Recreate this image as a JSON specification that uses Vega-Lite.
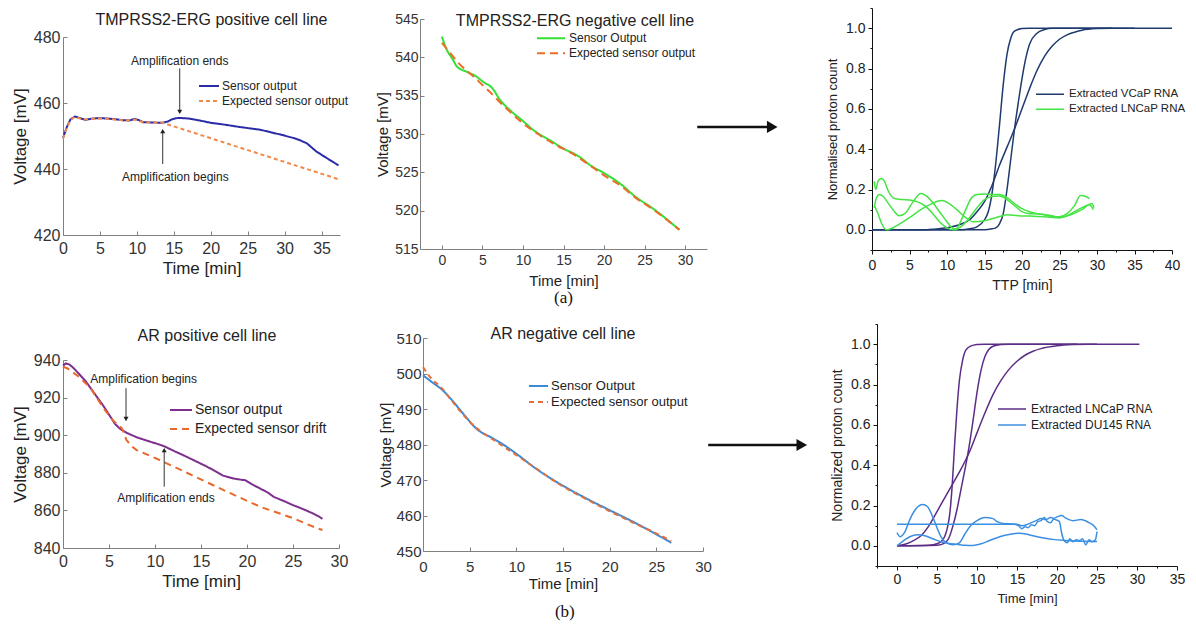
{
"$schema": "https://vega.github.io/schema/vega-lite/v6.json",
"width": 1196, "height": 624,
"autosize": {"type": "none"},
"padding": 0,
"config": {
  "font": "Liberation Sans",
  "view": {"stroke": null},
  "axis": {"grid": false, "labelFont": "Liberation Sans", "titleFont": "Liberation Sans", "titleFontWeight": "normal", "labelFlush": false, "labelOverlap": false},
  "legend": {"labelFont": "Liberation Sans", "labelColor": "#222", "labelLimit": 300}
},
"resolve": {
  "scale": {"x": "independent", "y": "independent", "color": "independent", "strokeDash": "independent", "shape": "independent"},
  "axis": {"x": "independent", "y": "independent"},
  "legend": {"color": "independent", "strokeDash": "independent", "shape": "independent"}
},
"datasets": {
  "p1": [
    {"s":"Sensor output","t":0,"v":449.4},{"s":"Sensor output","t":0.5,"v":452.6},{"s":"Sensor output","t":1,"v":455},{"s":"Sensor output","t":1.6,"v":455.9},{"s":"Sensor output","t":2.2,"v":455.5},{"s":"Sensor output","t":3,"v":454.9},{"s":"Sensor output","t":4,"v":455.3},{"s":"Sensor output","t":5,"v":455.4},{"s":"Sensor output","t":6,"v":455.3},{"s":"Sensor output","t":7,"v":455.1},{"s":"Sensor output","t":8,"v":454.8},{"s":"Sensor output","t":9,"v":454.7},{"s":"Sensor output","t":9.7,"v":455.2},{"s":"Sensor output","t":10.3,"v":454.8},{"s":"Sensor output","t":10.8,"v":454.2},{"s":"Sensor output","t":12,"v":454.1},{"s":"Sensor output","t":13.5,"v":454},{"s":"Sensor output","t":14.2,"v":454.4},{"s":"Sensor output","t":14.8,"v":455.1},{"s":"Sensor output","t":15.6,"v":455.5},{"s":"Sensor output","t":17,"v":455.3},{"s":"Sensor output","t":18.5,"v":454.7},{"s":"Sensor output","t":20,"v":454},{"s":"Sensor output","t":22,"v":453.4},{"s":"Sensor output","t":24,"v":452.7},{"s":"Sensor output","t":26.7,"v":451.9},{"s":"Sensor output","t":28,"v":451.2},{"s":"Sensor output","t":29.5,"v":450.4},{"s":"Sensor output","t":31.2,"v":449.4},{"s":"Sensor output","t":32,"v":448.8},{"s":"Sensor output","t":33,"v":447.8},{"s":"Sensor output","t":34.3,"v":445.3},{"s":"Sensor output","t":35.5,"v":443.6},{"s":"Sensor output","t":36.5,"v":442.2},{"s":"Sensor output","t":37.3,"v":441.1},
    {"s":"Expected sensor output","t":0,"v":449.2},{"s":"Expected sensor output","t":0.5,"v":452.4},{"s":"Expected sensor output","t":1,"v":454.8},{"s":"Expected sensor output","t":1.6,"v":455.8},{"s":"Expected sensor output","t":2.2,"v":455.4},{"s":"Expected sensor output","t":3,"v":455},{"s":"Expected sensor output","t":4,"v":455.2},{"s":"Expected sensor output","t":5,"v":455.3},{"s":"Expected sensor output","t":6,"v":455.2},{"s":"Expected sensor output","t":7,"v":455},{"s":"Expected sensor output","t":8,"v":454.8},{"s":"Expected sensor output","t":9,"v":454.7},{"s":"Expected sensor output","t":9.7,"v":455},{"s":"Expected sensor output","t":10.3,"v":454.6},{"s":"Expected sensor output","t":10.8,"v":454.2},{"s":"Expected sensor output","t":12,"v":454.1},{"s":"Expected sensor output","t":13.5,"v":454},{"s":"Expected sensor output","t":37.3,"v":436.9}
  ],
  "p1title": [{"t":20.1,"v":485.15,"label":"TMPRSS2-ERG positive cell line"}],
  "p1ann": [{"t":15.8,"v":472.7,"label":"Amplification ends"},{"t":15.2,"v":437.7,"label":"Amplification begins"}],
  "p1arr": [{"t":15.8,"v1":470.5,"v2":457.3,"d":"down"},{"t":13.5,"v1":441.5,"v2":451.5,"d":"up"}],
  "p2": [
    {"s":"Sensor Output","t":0,"v":542.7},{"s":"Sensor Output","t":0.6,"v":541},{"s":"Sensor Output","t":1.3,"v":539.8},{"s":"Sensor Output","t":1.85,"v":538.8},{"s":"Sensor Output","t":3.1,"v":538.1},{"s":"Sensor Output","t":4.1,"v":537.6},{"s":"Sensor Output","t":5.1,"v":536.8},{"s":"Sensor Output","t":6.2,"v":536},{"s":"Sensor Output","t":7.2,"v":534.4},{"s":"Sensor Output","t":8.4,"v":533.1},{"s":"Sensor Output","t":10,"v":531.7},{"s":"Sensor Output","t":11.3,"v":530.5},{"s":"Sensor Output","t":13.3,"v":529.2},{"s":"Sensor Output","t":15,"v":528.1},{"s":"Sensor Output","t":17,"v":527},{"s":"Sensor Output","t":18.2,"v":526},{"s":"Sensor Output","t":20,"v":524.9},{"s":"Sensor Output","t":21.9,"v":523.6},{"s":"Sensor Output","t":23.9,"v":521.8},{"s":"Sensor Output","t":26,"v":520.3},{"s":"Sensor Output","t":29.3,"v":517.5},
    {"s":"Expected sensor output","t":0,"v":541.9},{"s":"Expected sensor output","t":1,"v":540.6},{"s":"Expected sensor output","t":2,"v":539.3},{"s":"Expected sensor output","t":3,"v":538.3},{"s":"Expected sensor output","t":4,"v":537.4},{"s":"Expected sensor output","t":5,"v":536.4},{"s":"Expected sensor output","t":6,"v":535.4},{"s":"Expected sensor output","t":7,"v":534.3},{"s":"Expected sensor output","t":8,"v":533.3},{"s":"Expected sensor output","t":10,"v":531.4},{"s":"Expected sensor output","t":12,"v":529.9},{"s":"Expected sensor output","t":14,"v":528.6},{"s":"Expected sensor output","t":16,"v":527.5},{"s":"Expected sensor output","t":18,"v":526.1},{"s":"Expected sensor output","t":20,"v":524.6},{"s":"Expected sensor output","t":22,"v":523.3},{"s":"Expected sensor output","t":24,"v":521.6},{"s":"Expected sensor output","t":26,"v":520.2},{"s":"Expected sensor output","t":28,"v":518.6},{"s":"Expected sensor output","t":29.3,"v":517.5}
  ],
  "p2title": [{"t":16.42,"v":544.78,"label":"TMPRSS2-ERG negative cell line"}],
  "capA": [{"t":15,"v":508.6,"label":"(a)"}],
  "p3": [
    {"g":"VCaP","k":"V1","t":0,"v":0},{"g":"VCaP","k":"V1","t":12,"v":0},{"g":"VCaP","k":"V1","t":13,"v":0.005},{"g":"VCaP","k":"V1","t":14,"v":0.015},{"g":"VCaP","k":"V1","t":15,"v":0.05},{"g":"VCaP","k":"V1","t":15.5,"v":0.09},{"g":"VCaP","k":"V1","t":16,"v":0.18},{"g":"VCaP","k":"V1","t":16.5,"v":0.33},{"g":"VCaP","k":"V1","t":17,"v":0.52},{"g":"VCaP","k":"V1","t":17.5,"v":0.72},{"g":"VCaP","k":"V1","t":18,"v":0.87},{"g":"VCaP","k":"V1","t":18.5,"v":0.95},{"g":"VCaP","k":"V1","t":19,"v":0.985},{"g":"VCaP","k":"V1","t":20,"v":0.998},{"g":"VCaP","k":"V1","t":21,"v":1},{"g":"VCaP","k":"V1","t":40,"v":1},
    {"g":"VCaP","k":"V2","t":0,"v":0},{"g":"VCaP","k":"V2","t":15,"v":0},{"g":"VCaP","k":"V2","t":16,"v":0.005},{"g":"VCaP","k":"V2","t":16.5,"v":0.01},{"g":"VCaP","k":"V2","t":17,"v":0.03},{"g":"VCaP","k":"V2","t":17.5,"v":0.08},{"g":"VCaP","k":"V2","t":18,"v":0.2},{"g":"VCaP","k":"V2","t":18.5,"v":0.35},{"g":"VCaP","k":"V2","t":19,"v":0.5},{"g":"VCaP","k":"V2","t":19.5,"v":0.63},{"g":"VCaP","k":"V2","t":20,"v":0.75},{"g":"VCaP","k":"V2","t":20.5,"v":0.85},{"g":"VCaP","k":"V2","t":21,"v":0.92},{"g":"VCaP","k":"V2","t":22,"v":0.975},{"g":"VCaP","k":"V2","t":23,"v":0.993},{"g":"VCaP","k":"V2","t":24,"v":1},{"g":"VCaP","k":"V2","t":32,"v":1},
    {"g":"VCaP","k":"V3","t":0,"v":0},{"g":"VCaP","k":"V3","t":7,"v":0},{"g":"VCaP","k":"V3","t":8,"v":0.003},{"g":"VCaP","k":"V3","t":10,"v":0.01},{"g":"VCaP","k":"V3","t":12,"v":0.03},{"g":"VCaP","k":"V3","t":13,"v":0.05},{"g":"VCaP","k":"V3","t":14,"v":0.09},{"g":"VCaP","k":"V3","t":15,"v":0.14},{"g":"VCaP","k":"V3","t":16,"v":0.22},{"g":"VCaP","k":"V3","t":17,"v":0.32},{"g":"VCaP","k":"V3","t":18,"v":0.41},{"g":"VCaP","k":"V3","t":19,"v":0.5},{"g":"VCaP","k":"V3","t":20,"v":0.6},{"g":"VCaP","k":"V3","t":21,"v":0.7},{"g":"VCaP","k":"V3","t":22,"v":0.79},{"g":"VCaP","k":"V3","t":23,"v":0.86},{"g":"VCaP","k":"V3","t":24,"v":0.91},{"g":"VCaP","k":"V3","t":25,"v":0.945},{"g":"VCaP","k":"V3","t":26,"v":0.967},{"g":"VCaP","k":"V3","t":27,"v":0.98},{"g":"VCaP","k":"V3","t":28,"v":0.99},{"g":"VCaP","k":"V3","t":30,"v":0.998},{"g":"VCaP","k":"V3","t":32,"v":1},{"g":"VCaP","k":"V3","t":35,"v":1},
    {"g":"LNCaP","k":"L1","t":0.3,"v":0.11},{"g":"LNCaP","k":"L1","t":0.6,"v":0.16},{"g":"LNCaP","k":"L1","t":1,"v":0.175},{"g":"LNCaP","k":"L1","t":1.5,"v":0.165},{"g":"LNCaP","k":"L1","t":2.2,"v":0.13},{"g":"LNCaP","k":"L1","t":3,"v":0.09},{"g":"LNCaP","k":"L1","t":3.6,"v":0.07},{"g":"LNCaP","k":"L1","t":4.5,"v":0.085},{"g":"LNCaP","k":"L1","t":5.5,"v":0.14},{"g":"LNCaP","k":"L1","t":6.5,"v":0.18},{"g":"LNCaP","k":"L1","t":7.2,"v":0.17},{"g":"LNCaP","k":"L1","t":8,"v":0.14},{"g":"LNCaP","k":"L1","t":9,"v":0.09},{"g":"LNCaP","k":"L1","t":10,"v":0.04},{"g":"LNCaP","k":"L1","t":10.7,"v":0.01},{"g":"LNCaP","k":"L1","t":11.2,"v":0.005},{"g":"LNCaP","k":"L1","t":11.8,"v":0.04},{"g":"LNCaP","k":"L1","t":12.5,"v":0.1},{"g":"LNCaP","k":"L1","t":13.3,"v":0.16},{"g":"LNCaP","k":"L1","t":14,"v":0.175},{"g":"LNCaP","k":"L1","t":15,"v":0.178},{"g":"LNCaP","k":"L1","t":16,"v":0.175},{"g":"LNCaP","k":"L1","t":17,"v":0.175},{"g":"LNCaP","k":"L1","t":18,"v":0.16},{"g":"LNCaP","k":"L1","t":19,"v":0.13},{"g":"LNCaP","k":"L1","t":20,"v":0.105},{"g":"LNCaP","k":"L1","t":21,"v":0.09},{"g":"LNCaP","k":"L1","t":22,"v":0.08},{"g":"LNCaP","k":"L1","t":23,"v":0.075},{"g":"LNCaP","k":"L1","t":24,"v":0.065},{"g":"LNCaP","k":"L1","t":25,"v":0.065},{"g":"LNCaP","k":"L1","t":26,"v":0.08},{"g":"LNCaP","k":"L1","t":27,"v":0.12},{"g":"LNCaP","k":"L1","t":27.8,"v":0.17},{"g":"LNCaP","k":"L1","t":28.5,"v":0.165},{"g":"LNCaP","k":"L1","t":29,"v":0.155},
    {"g":"LNCaP","k":"L2","t":0.3,"v":0.24},{"g":"LNCaP","k":"L2","t":0.5,"v":0.2},{"g":"LNCaP","k":"L2","t":0.8,"v":0.24},{"g":"LNCaP","k":"L2","t":1.2,"v":0.255},{"g":"LNCaP","k":"L2","t":1.6,"v":0.245},{"g":"LNCaP","k":"L2","t":2.2,"v":0.19},{"g":"LNCaP","k":"L2","t":3,"v":0.155},{"g":"LNCaP","k":"L2","t":4,"v":0.15},{"g":"LNCaP","k":"L2","t":5,"v":0.148},{"g":"LNCaP","k":"L2","t":6,"v":0.14},{"g":"LNCaP","k":"L2","t":7,"v":0.12},{"g":"LNCaP","k":"L2","t":8,"v":0.085},{"g":"LNCaP","k":"L2","t":9,"v":0.04},{"g":"LNCaP","k":"L2","t":10,"v":0.01},{"g":"LNCaP","k":"L2","t":11,"v":0},{"g":"LNCaP","k":"L2","t":12,"v":0.02},{"g":"LNCaP","k":"L2","t":13,"v":0.06},{"g":"LNCaP","k":"L2","t":14,"v":0.11},{"g":"LNCaP","k":"L2","t":15,"v":0.15},{"g":"LNCaP","k":"L2","t":16,"v":0.165},{"g":"LNCaP","k":"L2","t":17,"v":0.168},{"g":"LNCaP","k":"L2","t":18,"v":0.15},{"g":"LNCaP","k":"L2","t":19,"v":0.12},{"g":"LNCaP","k":"L2","t":20,"v":0.09},{"g":"LNCaP","k":"L2","t":21,"v":0.08},{"g":"LNCaP","k":"L2","t":22,"v":0.08},{"g":"LNCaP","k":"L2","t":23,"v":0.075},{"g":"LNCaP","k":"L2","t":24,"v":0.07},{"g":"LNCaP","k":"L2","t":25,"v":0.06},{"g":"LNCaP","k":"L2","t":26,"v":0.07},{"g":"LNCaP","k":"L2","t":27,"v":0.09},{"g":"LNCaP","k":"L2","t":28,"v":0.11},{"g":"LNCaP","k":"L2","t":29,"v":0.125},{"g":"LNCaP","k":"L2","t":29.5,"v":0.1},
    {"g":"LNCaP","k":"L3","t":0.3,"v":0.12},{"g":"LNCaP","k":"L3","t":0.8,"v":0.08},{"g":"LNCaP","k":"L3","t":1.3,"v":0.03},{"g":"LNCaP","k":"L3","t":1.9,"v":0},{"g":"LNCaP","k":"L3","t":2.5,"v":0.005},{"g":"LNCaP","k":"L3","t":3.5,"v":0.025},{"g":"LNCaP","k":"L3","t":5,"v":0.06},{"g":"LNCaP","k":"L3","t":6.5,"v":0.1},{"g":"LNCaP","k":"L3","t":8,"v":0.13},{"g":"LNCaP","k":"L3","t":9.3,"v":0.145},{"g":"LNCaP","k":"L3","t":10.3,"v":0.13},{"g":"LNCaP","k":"L3","t":11.3,"v":0.1},{"g":"LNCaP","k":"L3","t":12.5,"v":0.06},{"g":"LNCaP","k":"L3","t":13.5,"v":0.04},{"g":"LNCaP","k":"L3","t":15,"v":0.045},{"g":"LNCaP","k":"L3","t":16.5,"v":0.06},{"g":"LNCaP","k":"L3","t":18,"v":0.075},{"g":"LNCaP","k":"L3","t":19.5,"v":0.07},{"g":"LNCaP","k":"L3","t":21,"v":0.068},{"g":"LNCaP","k":"L3","t":23,"v":0.065},{"g":"LNCaP","k":"L3","t":25,"v":0.06},{"g":"LNCaP","k":"L3","t":26.5,"v":0.075},{"g":"LNCaP","k":"L3","t":28,"v":0.1},{"g":"LNCaP","k":"L3","t":29.3,"v":0.13},{"g":"LNCaP","k":"L3","t":29.6,"v":0.11}
  ],
  "arrA": [{"x1":-23.3,"x2":-13.6,"xh":-13.3,"y":0.51}],
  "p4": [
    {"s":"Sensor output","t":0,"v":937},{"s":"Sensor output","t":0.3,"v":938.2},{"s":"Sensor output","t":0.7,"v":937.6},{"s":"Sensor output","t":1.2,"v":935.5},{"s":"Sensor output","t":1.85,"v":932},{"s":"Sensor output","t":2.5,"v":928.5},{"s":"Sensor output","t":3.3,"v":923},{"s":"Sensor output","t":4.4,"v":915.5},{"s":"Sensor output","t":5,"v":911},{"s":"Sensor output","t":5.65,"v":906},{"s":"Sensor output","t":6.3,"v":903},{"s":"Sensor output","t":6.9,"v":901.3},{"s":"Sensor output","t":8,"v":898.9},{"s":"Sensor output","t":9.5,"v":896.5},{"s":"Sensor output","t":10.5,"v":895},{"s":"Sensor output","t":11.1,"v":893.9},{"s":"Sensor output","t":12.2,"v":891.3},{"s":"Sensor output","t":13.4,"v":888.6},{"s":"Sensor output","t":15.3,"v":884.1},{"s":"Sensor output","t":16.3,"v":881.6},{"s":"Sensor output","t":17.4,"v":878.5},{"s":"Sensor output","t":18.5,"v":877},{"s":"Sensor output","t":19.5,"v":876.2},{"s":"Sensor output","t":19.8,"v":876.1},{"s":"Sensor output","t":20.5,"v":874},{"s":"Sensor output","t":21.4,"v":871.7},{"s":"Sensor output","t":22.3,"v":869.4},{"s":"Sensor output","t":22.9,"v":867.2},{"s":"Sensor output","t":24,"v":865},{"s":"Sensor output","t":25,"v":862.8},{"s":"Sensor output","t":26.2,"v":860.5},{"s":"Sensor output","t":27.2,"v":858.3},{"s":"Sensor output","t":27.8,"v":856.8},{"s":"Sensor output","t":28.2,"v":855.5},
    {"s":"Expected sensor drift","t":0,"v":936.5},{"s":"Expected sensor drift","t":0.5,"v":935.5},{"s":"Expected sensor drift","t":1.85,"v":930.6},{"s":"Expected sensor drift","t":3,"v":925},{"s":"Expected sensor drift","t":4.4,"v":914.4},{"s":"Expected sensor drift","t":5.5,"v":907.5},{"s":"Expected sensor drift","t":6.4,"v":903.7},{"s":"Expected sensor drift","t":6.9,"v":897.4},{"s":"Expected sensor drift","t":7.5,"v":894},{"s":"Expected sensor drift","t":8,"v":892.1},{"s":"Expected sensor drift","t":10.5,"v":886.8},{"s":"Expected sensor drift","t":14,"v":878.8},{"s":"Expected sensor drift","t":17.8,"v":870},{"s":"Expected sensor drift","t":21.4,"v":862},{"s":"Expected sensor drift","t":25,"v":855.9},{"s":"Expected sensor drift","t":27.6,"v":850.5},{"s":"Expected sensor drift","t":28.2,"v":849.6}
  ],
  "p4title": [{"t":15.65,"v":952.9,"label":"AR positive cell line"}],
  "p4ann": [{"t":8.77,"v":929.9,"label":"Amplification begins"},{"t":11.2,"v":866.8,"label":"Amplification ends"}],
  "p4arr": [{"t":6.85,"v1":925,"v2":908.6,"d":"down"},{"t":11,"v1":872.6,"v2":892.1,"d":"up"}],
  "p5": [
    {"s":"Sensor Output","t":0,"v":499.5},{"s":"Sensor Output","t":1,"v":497.5},{"s":"Sensor Output","t":2.1,"v":495.3},{"s":"Sensor Output","t":3,"v":492.8},{"s":"Sensor Output","t":4.3,"v":488.7},{"s":"Sensor Output","t":5.7,"v":484.5},{"s":"Sensor Output","t":7.5,"v":481.7},{"s":"Sensor Output","t":8.7,"v":479.8},{"s":"Sensor Output","t":10,"v":477.4},{"s":"Sensor Output","t":12.1,"v":473.2},{"s":"Sensor Output","t":14.6,"v":469},{"s":"Sensor Output","t":17.5,"v":464.8},{"s":"Sensor Output","t":20,"v":461.5},{"s":"Sensor Output","t":22.9,"v":457.7},{"s":"Sensor Output","t":24.8,"v":455},{"s":"Sensor Output","t":26.6,"v":452.3},
    {"s":"Expected sensor output","t":0,"v":501.8},{"s":"Expected sensor output","t":0.7,"v":499.2},{"s":"Expected sensor output","t":2.1,"v":495.6},{"s":"Expected sensor output","t":3,"v":492.6},{"s":"Expected sensor output","t":4.3,"v":488.4},{"s":"Expected sensor output","t":5.7,"v":484.7},{"s":"Expected sensor output","t":7.5,"v":481.4},{"s":"Expected sensor output","t":10,"v":477},{"s":"Expected sensor output","t":12.1,"v":473.3},{"s":"Expected sensor output","t":14.6,"v":468.8},{"s":"Expected sensor output","t":17.5,"v":464.6},{"s":"Expected sensor output","t":20,"v":461.2},{"s":"Expected sensor output","t":22.9,"v":457.5},{"s":"Expected sensor output","t":24.8,"v":455.2},{"s":"Expected sensor output","t":26.6,"v":452.8}
  ],
  "p5title": [{"t":15,"v":511.1,"label":"AR negative cell line"}],
  "capB": [{"t":15.2,"v":432.8,"label":"(b)"}],
  "p6": [
    {"g":"LNCaP","k":"P1","t":0,"v":0},{"g":"LNCaP","k":"P1","t":4,"v":0.003},{"g":"LNCaP","k":"P1","t":5,"v":0.01},{"g":"LNCaP","k":"P1","t":5.5,"v":0.02},{"g":"LNCaP","k":"P1","t":6,"v":0.05},{"g":"LNCaP","k":"P1","t":6.3,"v":0.09},{"g":"LNCaP","k":"P1","t":6.6,"v":0.16},{"g":"LNCaP","k":"P1","t":6.9,"v":0.3},{"g":"LNCaP","k":"P1","t":7.2,"v":0.5},{"g":"LNCaP","k":"P1","t":7.5,"v":0.68},{"g":"LNCaP","k":"P1","t":7.8,"v":0.82},{"g":"LNCaP","k":"P1","t":8.2,"v":0.92},{"g":"LNCaP","k":"P1","t":8.6,"v":0.97},{"g":"LNCaP","k":"P1","t":9.2,"v":0.99},{"g":"LNCaP","k":"P1","t":10,"v":0.998},{"g":"LNCaP","k":"P1","t":11,"v":1},{"g":"LNCaP","k":"P1","t":30.3,"v":1},
    {"g":"LNCaP","k":"P2","t":0,"v":0},{"g":"LNCaP","k":"P2","t":5,"v":0.003},{"g":"LNCaP","k":"P2","t":6,"v":0.015},{"g":"LNCaP","k":"P2","t":6.5,"v":0.04},{"g":"LNCaP","k":"P2","t":7,"v":0.1},{"g":"LNCaP","k":"P2","t":7.5,"v":0.18},{"g":"LNCaP","k":"P2","t":8,"v":0.28},{"g":"LNCaP","k":"P2","t":8.5,"v":0.38},{"g":"LNCaP","k":"P2","t":9,"v":0.49},{"g":"LNCaP","k":"P2","t":9.5,"v":0.62},{"g":"LNCaP","k":"P2","t":10,"v":0.76},{"g":"LNCaP","k":"P2","t":10.5,"v":0.87},{"g":"LNCaP","k":"P2","t":11,"v":0.94},{"g":"LNCaP","k":"P2","t":11.5,"v":0.975},{"g":"LNCaP","k":"P2","t":12,"v":0.99},{"g":"LNCaP","k":"P2","t":13,"v":0.998},{"g":"LNCaP","k":"P2","t":14,"v":1},{"g":"LNCaP","k":"P2","t":22.5,"v":1},
    {"g":"LNCaP","k":"P3","t":0,"v":0},{"g":"LNCaP","k":"P3","t":1,"v":0.008},{"g":"LNCaP","k":"P3","t":2,"v":0.025},{"g":"LNCaP","k":"P3","t":3,"v":0.05},{"g":"LNCaP","k":"P3","t":4,"v":0.1},{"g":"LNCaP","k":"P3","t":5,"v":0.17},{"g":"LNCaP","k":"P3","t":6,"v":0.24},{"g":"LNCaP","k":"P3","t":7,"v":0.31},{"g":"LNCaP","k":"P3","t":8,"v":0.38},{"g":"LNCaP","k":"P3","t":9,"v":0.46},{"g":"LNCaP","k":"P3","t":10,"v":0.56},{"g":"LNCaP","k":"P3","t":11,"v":0.66},{"g":"LNCaP","k":"P3","t":12,"v":0.75},{"g":"LNCaP","k":"P3","t":13,"v":0.82},{"g":"LNCaP","k":"P3","t":14,"v":0.875},{"g":"LNCaP","k":"P3","t":15,"v":0.915},{"g":"LNCaP","k":"P3","t":16,"v":0.945},{"g":"LNCaP","k":"P3","t":17,"v":0.965},{"g":"LNCaP","k":"P3","t":18,"v":0.978},{"g":"LNCaP","k":"P3","t":20,"v":0.992},{"g":"LNCaP","k":"P3","t":22,"v":0.998},{"g":"LNCaP","k":"P3","t":24,"v":1},{"g":"LNCaP","k":"P3","t":25,"v":1},
    {"g":"DU145","k":"B1","t":0,"v":0.065},{"g":"DU145","k":"B1","t":0.4,"v":0.045},{"g":"DU145","k":"B1","t":1,"v":0.07},{"g":"DU145","k":"B1","t":1.6,"v":0.13},{"g":"DU145","k":"B1","t":2.4,"v":0.185},{"g":"DU145","k":"B1","t":3.2,"v":0.205},{"g":"DU145","k":"B1","t":3.8,"v":0.195},{"g":"DU145","k":"B1","t":4.4,"v":0.15},{"g":"DU145","k":"B1","t":5,"v":0.09},{"g":"DU145","k":"B1","t":5.5,"v":0.045},{"g":"DU145","k":"B1","t":6.2,"v":0.015},{"g":"DU145","k":"B1","t":7,"v":0.005},{"g":"DU145","k":"B1","t":7.8,"v":0.015},{"g":"DU145","k":"B1","t":8.5,"v":0.06},{"g":"DU145","k":"B1","t":9.2,"v":0.1},{"g":"DU145","k":"B1","t":10,"v":0.125},{"g":"DU145","k":"B1","t":11,"v":0.14},{"g":"DU145","k":"B1","t":12,"v":0.135},{"g":"DU145","k":"B1","t":12.5,"v":0.12},{"g":"DU145","k":"B1","t":13.5,"v":0.11},{"g":"DU145","k":"B1","t":14.5,"v":0.108},{"g":"DU145","k":"B1","t":15.2,"v":0.1},{"g":"DU145","k":"B1","t":15.6,"v":0.085},{"g":"DU145","k":"B1","t":16,"v":0.095},{"g":"DU145","k":"B1","t":16.4,"v":0.09},{"g":"DU145","k":"B1","t":16.8,"v":0.105},{"g":"DU145","k":"B1","t":17.2,"v":0.1},{"g":"DU145","k":"B1","t":17.6,"v":0.12},{"g":"DU145","k":"B1","t":18,"v":0.125},{"g":"DU145","k":"B1","t":18.4,"v":0.14},{"g":"DU145","k":"B1","t":18.8,"v":0.12},{"g":"DU145","k":"B1","t":19.2,"v":0.115},{"g":"DU145","k":"B1","t":19.6,"v":0.135},{"g":"DU145","k":"B1","t":20.1,"v":0.145},{"g":"DU145","k":"B1","t":20.6,"v":0.15},{"g":"DU145","k":"B1","t":21,"v":0.14},{"g":"DU145","k":"B1","t":21.5,"v":0.13},{"g":"DU145","k":"B1","t":22,"v":0.125},{"g":"DU145","k":"B1","t":23,"v":0.13},{"g":"DU145","k":"B1","t":24,"v":0.115},{"g":"DU145","k":"B1","t":24.6,"v":0.1},{"g":"DU145","k":"B1","t":25,"v":0.08},
    {"g":"DU145","k":"B2","t":0,"v":0.107},{"g":"DU145","k":"B2","t":15,"v":0.107},{"g":"DU145","k":"B2","t":15.6,"v":0.1},{"g":"DU145","k":"B2","t":16.2,"v":0.105},{"g":"DU145","k":"B2","t":16.8,"v":0.115},{"g":"DU145","k":"B2","t":17.4,"v":0.125},{"g":"DU145","k":"B2","t":18,"v":0.135},{"g":"DU145","k":"B2","t":18.6,"v":0.13},{"g":"DU145","k":"B2","t":19.2,"v":0.14},{"g":"DU145","k":"B2","t":19.8,"v":0.13},{"g":"DU145","k":"B2","t":20.3,"v":0.12},{"g":"DU145","k":"B2","t":20.6,"v":0.06},{"g":"DU145","k":"B2","t":20.9,"v":0.025},{"g":"DU145","k":"B2","t":21.3,"v":0.015},{"g":"DU145","k":"B2","t":21.6,"v":0.035},{"g":"DU145","k":"B2","t":22,"v":0.02},{"g":"DU145","k":"B2","t":22.4,"v":0.03},{"g":"DU145","k":"B2","t":22.8,"v":0.025},{"g":"DU145","k":"B2","t":23.2,"v":0.035},{"g":"DU145","k":"B2","t":23.6,"v":0.005},{"g":"DU145","k":"B2","t":24,"v":0.03},{"g":"DU145","k":"B2","t":24.4,"v":0.02},{"g":"DU145","k":"B2","t":24.8,"v":0.03},{"g":"DU145","k":"B2","t":25,"v":0.07},
    {"g":"DU145","k":"B3","t":0,"v":0},{"g":"DU145","k":"B3","t":0.8,"v":0.025},{"g":"DU145","k":"B3","t":1.6,"v":0.045},{"g":"DU145","k":"B3","t":2.5,"v":0.055},{"g":"DU145","k":"B3","t":3.5,"v":0.05},{"g":"DU145","k":"B3","t":4.5,"v":0.035},{"g":"DU145","k":"B3","t":5.5,"v":0.02},{"g":"DU145","k":"B3","t":6.5,"v":0.012},{"g":"DU145","k":"B3","t":7.5,"v":0.008},{"g":"DU145","k":"B3","t":8.5,"v":0.003},{"g":"DU145","k":"B3","t":9.5,"v":0.002},{"g":"DU145","k":"B3","t":10.5,"v":0.01},{"g":"DU145","k":"B3","t":11.5,"v":0.025},{"g":"DU145","k":"B3","t":12.5,"v":0.04},{"g":"DU145","k":"B3","t":13.5,"v":0.052},{"g":"DU145","k":"B3","t":14.5,"v":0.06},{"g":"DU145","k":"B3","t":15.3,"v":0.063},{"g":"DU145","k":"B3","t":16.5,"v":0.055},{"g":"DU145","k":"B3","t":17.5,"v":0.045},{"g":"DU145","k":"B3","t":18.5,"v":0.038},{"g":"DU145","k":"B3","t":19.5,"v":0.032},{"g":"DU145","k":"B3","t":21,"v":0.027},{"g":"DU145","k":"B3","t":23,"v":0.023},{"g":"DU145","k":"B3","t":25,"v":0.022}
  ],
  "arrB": [{"x1":-23.6,"x2":-12.1,"xh":-11.9,"y":0.5}]
},
"layer": [
  {"layer": [
    {"data": {"name": "p1"}, "mark": {"type": "line", "strokeWidth": 2, "interpolate": "linear"},
     "encoding": {
      "x": {"field": "t", "type": "quantitative", "scale": {"domain": [0, 37.5], "range": [63, 340], "nice": false, "zero": false},
            "axis": {"orient": "bottom", "offset": -389, "title": "Time [min]", "values": [0,5,10,15,20,25,30,35], "tickSize": -4, "labelPadding": 9, "labelFontSize": 16, "titleFontSize": 17, "titlePadding": 4, "domainColor": "#808080", "tickColor": "#808080", "labelColor": "#333", "titleColor": "#222"}},
      "y": {"field": "v", "type": "quantitative", "scale": {"domain": [420, 480], "range": [235, 37], "nice": false, "zero": false},
            "axis": {"orient": "left", "offset": -63, "title": "Voltage [mV]", "values": [420,440,460,480], "tickSize": -4, "labelPadding": 7, "labelFontSize": 16, "titleFontSize": 17, "titlePadding": 4, "domainColor": "#808080", "tickColor": "#808080", "labelColor": "#333", "titleColor": "#222"}},
      "color": {"field": "s", "type": "nominal", "scale": {"domain": ["Sensor output", "Expected sensor output"], "range": ["#2b2ba8", "#f08a4b"]},
                "legend": {"title": null, "orient": "none", "legendX": 198, "legendY": 78.5, "symbolType": "stroke", "symbolSize": 400, "symbolStrokeWidth": 2, "clipHeight": 15, "rowPadding": 0, "labelFontSize": 12, "labelOffset": 2}},
      "strokeDash": {"field": "s", "type": "nominal", "scale": {"domain": ["Sensor output", "Expected sensor output"], "range": [[1, 0], [4, 3]]},
                "legend": {"title": null, "orient": "none", "legendX": 198, "legendY": 78.5, "symbolType": "stroke", "symbolSize": 400, "symbolStrokeWidth": 2, "clipHeight": 15, "rowPadding": 0, "labelFontSize": 12, "labelOffset": 2}}
     }},
    {"data": {"name": "p1title"}, "mark": {"type": "text", "fontSize": 16, "color": "#222"},
     "encoding": {"x": {"field": "t", "type": "quantitative"}, "y": {"field": "v", "type": "quantitative"}, "text": {"field": "label"}}},
    {"data": {"name": "p1ann"}, "mark": {"type": "text", "fontSize": 12, "color": "#222"},
     "encoding": {"x": {"field": "t", "type": "quantitative"}, "y": {"field": "v", "type": "quantitative"}, "text": {"field": "label"}}},
    {"data": {"name": "p1arr"}, "mark": {"type": "rule", "color": "#333", "strokeWidth": 1},
     "encoding": {"x": {"field": "t", "type": "quantitative"}, "y": {"field": "v1", "type": "quantitative"}, "y2": {"field": "v2"}}},
    {"data": {"name": "p1arr"}, "mark": {"type": "point", "filled": true, "color": "#222", "size": 25, "opacity": 1},
     "encoding": {"x": {"field": "t", "type": "quantitative"}, "y": {"field": "v2", "type": "quantitative"},
                  "shape": {"field": "d", "type": "nominal", "scale": {"domain": ["down", "up"], "range": ["triangle-down", "triangle-up"]}, "legend": null}}}
  ]},
  {"layer": [
    {"data": {"name": "p2"}, "mark": {"type": "line", "strokeWidth": 2, "interpolate": "monotone"},
     "encoding": {
      "x": {"field": "t", "type": "quantitative", "scale": {"domain": [-2.7, 32.7], "range": [420, 707], "nice": false, "zero": false},
            "axis": {"orient": "bottom", "offset": -375, "title": "Time [min]", "values": [0,5,10,15,20,25,30], "tickSize": -4, "labelPadding": 8, "labelFontSize": 14, "titleFontSize": 15, "titlePadding": 6, "domainColor": "#808080", "tickColor": "#808080", "labelColor": "#333", "titleColor": "#222"}},
      "y": {"field": "v", "type": "quantitative", "scale": {"domain": [515, 545], "range": [249, 19], "nice": false, "zero": false},
            "axis": {"orient": "left", "offset": -420, "title": "Voltage [mV]", "values": [515,520,525,530,535,540,545], "tickSize": -4, "labelPadding": 6, "labelFontSize": 14, "titleFontSize": 15, "titlePadding": 4, "domainColor": "#808080", "tickColor": "#808080", "labelColor": "#333", "titleColor": "#222"}},
      "color": {"field": "s", "type": "nominal", "scale": {"domain": ["Sensor Output", "Expected sensor output"], "range": ["#33e033", "#ec6c28"]},
                "legend": {"title": null, "orient": "none", "legendX": 536, "legendY": 30.8, "symbolType": "stroke", "symbolSize": 784, "symbolStrokeWidth": 2, "clipHeight": 15, "rowPadding": 0, "labelFontSize": 12, "labelOffset": 3}},
      "strokeDash": {"field": "s", "type": "nominal", "scale": {"domain": ["Sensor Output", "Expected sensor output"], "range": [[1, 0], [8, 5]]},
                "legend": {"title": null, "orient": "none", "legendX": 536, "legendY": 30.8, "symbolType": "stroke", "symbolSize": 784, "symbolStrokeWidth": 2, "clipHeight": 15, "rowPadding": 0, "labelFontSize": 12, "labelOffset": 3}}
     }},
    {"data": {"name": "p2title"}, "mark": {"type": "text", "fontSize": 16, "color": "#222"},
     "encoding": {"x": {"field": "t", "type": "quantitative"}, "y": {"field": "v", "type": "quantitative"}, "text": {"field": "label"}}},
    {"data": {"name": "capA"}, "mark": {"type": "text", "fontSize": 17, "font": "Liberation Serif", "color": "#111"},
     "encoding": {"x": {"field": "t", "type": "quantitative"}, "y": {"field": "v", "type": "quantitative"}, "text": {"field": "label"}}}
  ]},
  {"layer": [
    {"data": {"name": "p3"}, "mark": {"type": "line", "strokeWidth": 1.5, "interpolate": "monotone"},
     "encoding": {
      "x": {"field": "t", "type": "quantitative", "scale": {"domain": [0, 40], "range": [872, 1172], "nice": false, "zero": false},
            "axis": {"orient": "bottom", "offset": -374, "title": "TTP [min]", "values": [0,2.5,5,7.5,10,12.5,15,17.5,20,22.5,25,27.5,30,32.5,35,37.5,40], "labelExpr": "datum.value % 5 === 0 ? datum.label : ''", "tickSize": {"condition": {"test": "datum.value % 5 === 0", "value": 4}, "value": 2}, "labelPadding": 4, "labelFontSize": 14, "titleFontSize": 14, "titlePadding": 6, "domainColor": "#111", "tickColor": "#111", "labelColor": "#222", "titleColor": "#222"}},
      "y": {"field": "v", "type": "quantitative", "scale": {"domain": [-0.1, 1.1], "range": [250, 8], "nice": false, "zero": false},
            "axis": {"orient": "left", "offset": -872, "title": "Normalised proton count", "values": [-0.1,0,0.1,0.2,0.3,0.4,0.5,0.6,0.7,0.8,0.9,1,1.1], "format": ".1f", "labelExpr": "abs(datum.value*5-round(datum.value*5)) < 0.01 ? datum.label : ''", "tickSize": {"condition": {"test": "abs(datum.value*5-round(datum.value*5)) < 0.01", "value": 4}, "value": 2}, "labelPadding": 3, "labelFontSize": 14, "titleFontSize": 13, "titlePadding": 6, "domainColor": "#111", "tickColor": "#111", "labelColor": "#222", "titleColor": "#222"}},
      "detail": {"field": "k"},
      "color": {"field": "g", "type": "nominal", "scale": {"domain": ["VCaP", "LNCaP"], "range": ["#1f3a6e", "#44e444"]},
                "legend": {"title": null, "orient": "none", "legendX": 1035, "legendY": 86.8, "symbolType": "stroke", "symbolSize": 784, "symbolStrokeWidth": 1.5, "clipHeight": 15, "rowPadding": 0, "labelFontSize": 11.5, "labelOffset": 4, "labelExpr": "'Extracted ' + datum.label + ' RNA'"}}
     }},
    {"data": {"name": "arrA"}, "mark": {"type": "rule", "color": "#111", "strokeWidth": 2.5},
     "encoding": {"x": {"field": "x1", "type": "quantitative"}, "x2": {"field": "x2"}, "y": {"field": "y", "type": "quantitative"}}},
    {"data": {"name": "arrA"}, "mark": {"type": "point", "filled": true, "color": "#111", "shape": "triangle-right", "size": 150, "opacity": 1},
     "encoding": {"x": {"field": "xh", "type": "quantitative"}, "y": {"field": "y", "type": "quantitative"}}}
  ]},
  {"layer": [
    {"data": {"name": "p4"}, "mark": {"type": "line", "strokeWidth": 2, "interpolate": "linear"},
     "encoding": {
      "x": {"field": "t", "type": "quantitative", "scale": {"domain": [0, 30], "range": [63, 339], "nice": false, "zero": false},
            "axis": {"orient": "bottom", "offset": -76, "title": "Time [min]", "values": [0,5,10,15,20,25,30], "tickSize": -4, "labelPadding": 9, "labelFontSize": 16, "titleFontSize": 17, "titlePadding": 4, "domainColor": "#808080", "tickColor": "#808080", "labelColor": "#333", "titleColor": "#222"}},
      "y": {"field": "v", "type": "quantitative", "scale": {"domain": [840, 940], "range": [548, 360], "nice": false, "zero": false},
            "axis": {"orient": "left", "offset": -63, "title": "Voltage [mV]", "values": [840,860,880,900,920,940], "tickSize": -4, "labelPadding": 7, "labelFontSize": 16, "titleFontSize": 17, "titlePadding": 4, "domainColor": "#808080", "tickColor": "#808080", "labelColor": "#333", "titleColor": "#222"}},
      "color": {"field": "s", "type": "nominal", "scale": {"domain": ["Sensor output", "Expected sensor drift"], "range": ["#7e2f8e", "#e8682c"]},
                "legend": {"title": null, "orient": "none", "legendX": 169, "legendY": 400.5, "symbolType": "stroke", "symbolSize": 484, "symbolStrokeWidth": 2, "clipHeight": 19, "rowPadding": 0, "labelFontSize": 14, "labelOffset": 2}},
      "strokeDash": {"field": "s", "type": "nominal", "scale": {"domain": ["Sensor output", "Expected sensor drift"], "range": [[1, 0], [7, 5]]},
                "legend": {"title": null, "orient": "none", "legendX": 169, "legendY": 400.5, "symbolType": "stroke", "symbolSize": 484, "symbolStrokeWidth": 2, "clipHeight": 19, "rowPadding": 0, "labelFontSize": 14, "labelOffset": 2}}
     }},
    {"data": {"name": "p4title"}, "mark": {"type": "text", "fontSize": 16, "color": "#222"},
     "encoding": {"x": {"field": "t", "type": "quantitative"}, "y": {"field": "v", "type": "quantitative"}, "text": {"field": "label"}}},
    {"data": {"name": "p4ann"}, "mark": {"type": "text", "fontSize": 12, "color": "#222"},
     "encoding": {"x": {"field": "t", "type": "quantitative"}, "y": {"field": "v", "type": "quantitative"}, "text": {"field": "label"}}},
    {"data": {"name": "p4arr"}, "mark": {"type": "rule", "color": "#333", "strokeWidth": 1},
     "encoding": {"x": {"field": "t", "type": "quantitative"}, "y": {"field": "v1", "type": "quantitative"}, "y2": {"field": "v2"}}},
    {"data": {"name": "p4arr"}, "mark": {"type": "point", "filled": true, "color": "#222", "size": 25, "opacity": 1},
     "encoding": {"x": {"field": "t", "type": "quantitative"}, "y": {"field": "v2", "type": "quantitative"},
                  "shape": {"field": "d", "type": "nominal", "scale": {"domain": ["down", "up"], "range": ["triangle-down", "triangle-up"]}, "legend": null}}}
  ]},
  {"layer": [
    {"data": {"name": "p5"}, "mark": {"type": "line", "strokeWidth": 2, "interpolate": "monotone"},
     "encoding": {
      "x": {"field": "t", "type": "quantitative", "scale": {"domain": [0, 30], "range": [423, 703], "nice": false, "zero": false},
            "axis": {"orient": "bottom", "offset": -73, "title": "Time [min]", "values": [0,5,10,15,20,25,30], "tickSize": -4, "labelPadding": 12, "labelFontSize": 15, "titleFontSize": 15, "titlePadding": 2, "domainColor": "#808080", "tickColor": "#808080", "labelColor": "#333", "titleColor": "#222"}},
      "y": {"field": "v", "type": "quantitative", "scale": {"domain": [450, 510], "range": [551, 338], "nice": false, "zero": false},
            "axis": {"orient": "left", "offset": -423, "title": "Voltage [mV]", "values": [450,460,470,480,490,500,510], "tickSize": -4, "labelPadding": 6, "labelFontSize": 15, "titleFontSize": 15, "titlePadding": 2, "domainColor": "#808080", "tickColor": "#808080", "labelColor": "#333", "titleColor": "#222"}},
      "color": {"field": "s", "type": "nominal", "scale": {"domain": ["Sensor Output", "Expected sensor output"], "range": ["#3a8ad6", "#e3703a"]},
                "legend": {"title": null, "orient": "none", "legendX": 528, "legendY": 378, "symbolType": "stroke", "symbolSize": 361, "symbolStrokeWidth": 2, "clipHeight": 16, "rowPadding": 0, "labelFontSize": 13, "labelOffset": 2}},
      "strokeDash": {"field": "s", "type": "nominal", "scale": {"domain": ["Sensor Output", "Expected sensor output"], "range": [[1, 0], [5, 4]]},
                "legend": {"title": null, "orient": "none", "legendX": 528, "legendY": 378, "symbolType": "stroke", "symbolSize": 361, "symbolStrokeWidth": 2, "clipHeight": 16, "rowPadding": 0, "labelFontSize": 13, "labelOffset": 2}}
     }},
    {"data": {"name": "p5title"}, "mark": {"type": "text", "fontSize": 16, "color": "#222"},
     "encoding": {"x": {"field": "t", "type": "quantitative"}, "y": {"field": "v", "type": "quantitative"}, "text": {"field": "label"}}},
    {"data": {"name": "capB"}, "mark": {"type": "text", "fontSize": 17, "font": "Liberation Serif", "color": "#111"},
     "encoding": {"x": {"field": "t", "type": "quantitative"}, "y": {"field": "v", "type": "quantitative"}, "text": {"field": "label"}}}
  ]},
  {"layer": [
    {"data": {"name": "p6"}, "mark": {"type": "line", "strokeWidth": 1.5, "interpolate": "monotone"},
     "encoding": {
      "x": {"field": "t", "type": "quantitative", "scale": {"domain": [-2.5, 35], "range": [877, 1177], "nice": false, "zero": false},
            "axis": {"orient": "bottom", "offset": -58, "title": "Time [min]", "values": [-2.5,0,2.5,5,7.5,10,12.5,15,17.5,20,22.5,25,27.5,30,32.5,35], "labelExpr": "datum.value % 5 === 0 ? datum.label : ''", "tickSize": {"condition": {"test": "datum.value % 5 === 0", "value": 4}, "value": 2}, "labelPadding": 2, "labelFontSize": 14, "titleFontSize": 13, "titlePadding": 6, "domainColor": "#111", "tickColor": "#111", "labelColor": "#222", "titleColor": "#222"}},
      "y": {"field": "v", "type": "quantitative", "scale": {"domain": [-0.1, 1.1], "range": [566, 324], "nice": false, "zero": false},
            "axis": {"orient": "left", "offset": -877, "title": "Normalized proton count", "values": [-0.1,0,0.1,0.2,0.3,0.4,0.5,0.6,0.7,0.8,0.9,1,1.1], "format": ".1f", "labelExpr": "abs(datum.value*5-round(datum.value*5)) < 0.01 ? datum.label : ''", "tickSize": {"condition": {"test": "abs(datum.value*5-round(datum.value*5)) < 0.01", "value": 4}, "value": 2}, "labelPadding": 3, "labelFontSize": 14, "titleFontSize": 14, "titlePadding": 6, "domainColor": "#111", "tickColor": "#111", "labelColor": "#222", "titleColor": "#222"}},
      "detail": {"field": "k"},
      "color": {"field": "g", "type": "nominal", "scale": {"domain": ["LNCaP", "DU145"], "range": ["#5c2d87", "#3b8fe0"]},
                "legend": {"title": null, "orient": "none", "legendX": 997, "legendY": 401, "symbolType": "stroke", "symbolSize": 784, "symbolStrokeWidth": 1.5, "clipHeight": 16, "rowPadding": 0, "labelFontSize": 12, "labelOffset": 4, "labelExpr": "'Extracted ' + datum.label + ' RNA'"}}
     }},
    {"data": {"name": "arrB"}, "mark": {"type": "rule", "color": "#111", "strokeWidth": 2.5},
     "encoding": {"x": {"field": "x1", "type": "quantitative"}, "x2": {"field": "x2"}, "y": {"field": "y", "type": "quantitative"}}},
    {"data": {"name": "arrB"}, "mark": {"type": "point", "filled": true, "color": "#111", "shape": "triangle-right", "size": 150, "opacity": 1},
     "encoding": {"x": {"field": "xh", "type": "quantitative"}, "y": {"field": "y", "type": "quantitative"}}}
  ]}
]
}
